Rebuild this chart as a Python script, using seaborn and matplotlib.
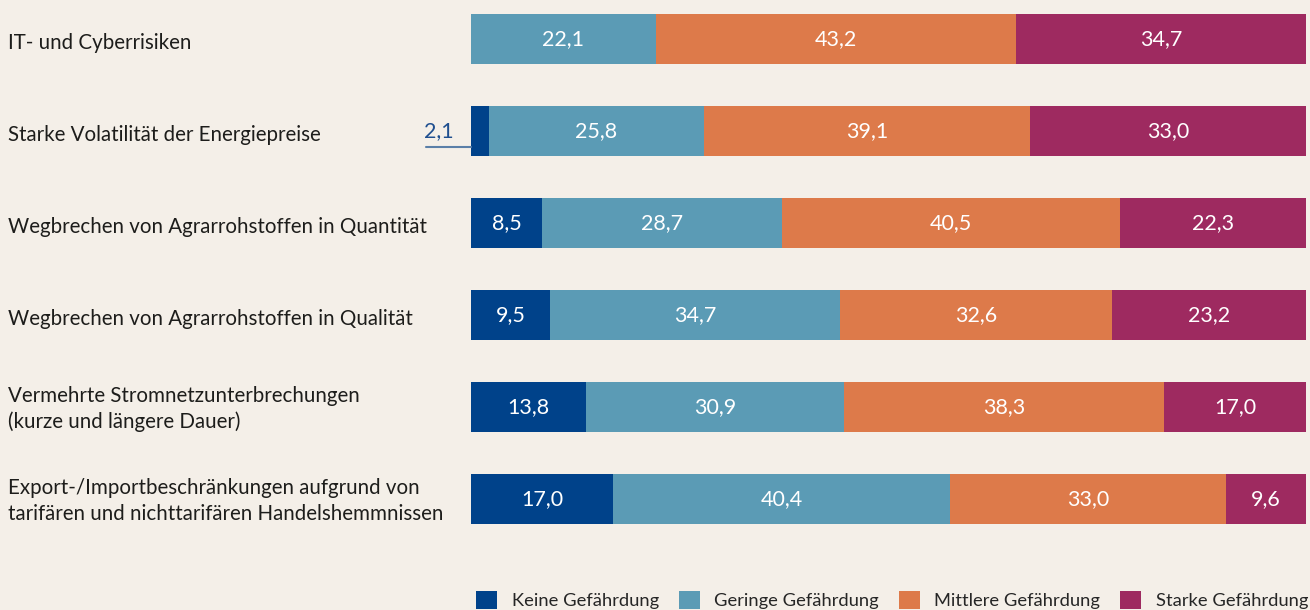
import pandas as pd
import matplotlib.pyplot as plt
import seaborn as sns
from matplotlib.patches import Patch

sns.set_theme(style='white')
plt.rcParams['font.family'] = ['Lato', 'DejaVu Sans']

categories = ['IT- und Cyberrisiken',
              'Starke Volatilität der Energiepreise',
              'Wegbrechen von Agrarrohstoffen in Quantität',
              'Wegbrechen von Agrarrohstoffen in Qualität',
              'Vermehrte Stromnetzunterbrechungen\n(kurze und längere Dauer)',
              'Export-/Importbeschränkungen aufgrund von\ntarifären und nichttarifären Handelshemmnissen']
series = ['Keine Gefährdung', 'Geringe Gefährdung', 'Mittlere Gefährdung', 'Starke Gefährdung']
keine = [0.0, 2.1, 8.5, 9.5, 13.8, 17.0]
geringe = [22.1, 25.8, 28.7, 34.7, 30.9, 40.4]
mittlere = [43.2, 39.1, 40.5, 32.6, 38.3, 33.0]
starke = [34.7, 33.0, 22.3, 23.2, 17.0, 9.6]
colors = ['#00428a', '#5b9bb5', '#dd7a4a', '#9e2a60']
bg = '#f4efe8'

df = pd.DataFrame({'cat': categories, 'keine': keine, 'geringe': geringe,
                   'mittlere': mittlere, 'starke': starke})
cols = ['keine', 'geringe', 'mittlere', 'starke']
cum = df[cols].cumsum(axis=1)

fig = plt.figure(figsize=(13.1, 6.1), dpi=100, facecolor=bg)
ax = fig.add_axes([471 / 1310, 65 / 610, 835 / 1310, 545 / 610])
ax.set_facecolor(bg)

# draw cumulative totals from the right so shorter ones sit on top
for col, color in zip(reversed(cols), reversed(colors)):
    sns.barplot(x=cum[col], y=df['cat'], orient='h', color=color,
                width=0.545, saturation=1, ax=ax, linewidth=0)

ax.set_xlim(0, 100)
ax.set_ylim(5.5, -0.424)
ax.set_xlabel('')
ax.set_ylabel('')
ax.set_xticks([])
ax.set_yticks([])
sns.despine(ax=ax, left=True, bottom=True)

for i, cat in enumerate(categories):
    shift = 4 if '\n' not in cat else 2
    y_fig = (610 - (39 + 92 * i + shift)) / 610
    fig.text(8 / 1310, y_fig, cat, ha='left', va='center', fontsize=14.8,
             color='#1d1d1b', linespacing=1.33)
    start = 0.0
    for col in cols:
        v = df.loc[i, col]
        if v >= 5:
            ax.text(start + v / 2, i, f'{v:.1f}'.replace('.', ','), ha='center',
                    va='center', color='white', fontsize=15.5)
        elif v > 0:
            ax.text(-2.1, i, f'{v:.1f}'.replace('.', ','), ha='right',
                    va='center', color='#1f4f8f', fontsize=15.5)
            ax.plot([-5.4, 0], [i + 0.17, i + 0.17], color='#5a7fa8', lw=1.5,
                    clip_on=False)
        start += v

handles = [Patch(facecolor=c, edgecolor='none') for c in colors]
fig.legend(handles, series, loc='lower right', bbox_to_anchor=(1308 / 1310, 1 / 610),
           ncol=4, frameon=False, fontsize=13.2, handlelength=1.15, handleheight=1.15,
           handletextpad=0.8, columnspacing=1.07, borderaxespad=0, borderpad=0)

fig.savefig('out.png', dpi=100, facecolor=bg)
